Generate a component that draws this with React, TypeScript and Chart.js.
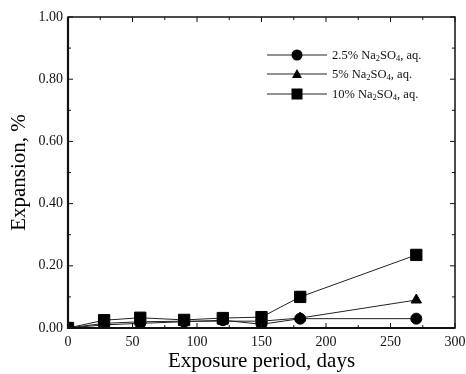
import React, { useEffect, useRef } from "react";
import { Chart, registerables } from "chart.js";

Chart.register(...registerables);

const days = [0, 28, 56, 90, 120, 150, 180, 270];
const series25 = [0, 0.01, 0.015, 0.02, 0.025, 0.012, 0.03, 0.03];
const series5 = [0, 0.015, 0.02, 0.022, 0.022, 0.022, 0.032, 0.09];
const series10 = [0, 0.025, 0.033, 0.026, 0.032, 0.035, 0.1, 0.235];
const legendPrefix = ["2.5% ", "5% ", "10% "];
const legendLabels = ["2.5% Na\u2082SO\u2084, aq.", "5% Na\u2082SO\u2084, aq.", "10% Na\u2082SO\u2084, aq."];
const xTicks = [0, 50, 100, 150, 200, 250, 300];
const yTicks = [0, 0.2, 0.4, 0.6, 0.8, 1.0];

const FONT = "'Liberation Serif', 'Times New Roman', serif";

const frameAndTicks = {
  id: "frameAndTicks",
  afterDatasetsDraw(chart: any) {
    const { ctx, chartArea: a, scales } = chart;
    const xs = scales.x, ys = scales.y;
    ctx.save();
    ctx.strokeStyle = "#111";
    ctx.lineWidth = 1;
    ctx.beginPath();
    for (let v = 0; v <= 300; v += 25) {
      const px = xs.getPixelForValue(v);
      const len = v % 50 === 0 ? 5 : 3;
      ctx.moveTo(px, a.bottom); ctx.lineTo(px, a.bottom - len);
      ctx.moveTo(px, a.top); ctx.lineTo(px, a.top + len);
    }
    for (let i = 0; i <= 10; i++) {
      const v = i / 10;
      const py = ys.getPixelForValue(v);
      const len = i % 2 === 0 ? 5 : 3;
      ctx.moveTo(a.left, py); ctx.lineTo(a.left + len, py);
      ctx.moveTo(a.right, py); ctx.lineTo(a.right - len, py);
    }
    ctx.stroke();
    ctx.lineWidth = 1.5;
    ctx.strokeRect(a.left, a.top, a.right - a.left, a.bottom - a.top);
    ctx.lineWidth = 2.2;
    ctx.beginPath();
    ctx.moveTo(a.left, a.top); ctx.lineTo(a.left, a.bottom); ctx.lineTo(a.right, a.bottom);
    ctx.stroke();
    ctx.restore();
  },
};

const customLegend = {
  id: "customLegend",
  afterDraw(chart: any) {
    const { ctx } = chart;
    ctx.save();
    const rows = [55, 74, 94];
    chart.data.datasets.forEach((ds: any, i: number) => {
      const y = rows[i];
      ctx.strokeStyle = "#222";
      ctx.lineWidth = 1;
      ctx.beginPath();
      ctx.moveTo(267, y); ctx.lineTo(327, y);
      ctx.stroke();
      ctx.fillStyle = "#000";
      const cx = 297;
      ctx.beginPath();
      if (ds.pointStyle === "circle") {
        ctx.arc(cx, y, 5.5, 0, Math.PI * 2);
      } else if (ds.pointStyle === "triangle") {
        ctx.moveTo(cx, y - 5); ctx.lineTo(cx + 5, y + 4); ctx.lineTo(cx - 5, y + 4); ctx.closePath();
      } else {
        ctx.rect(cx - 5.5, y - 5.5, 11, 11);
      }
      ctx.fill();
      ctx.fillStyle = "#111";
      ctx.textBaseline = "alphabetic";
      const base = y + 4;
      let x = 332;
      const big = `12.5px ${FONT}`;
      const small = `8.5px ${FONT}`;
      const parts: [string, boolean][] = [[legendPrefix[i] + "Na", false], ["2", true], ["SO", false], ["4", true], [", aq.", false]];
      for (const [t, sub] of parts) {
        ctx.font = sub ? small : big;
        ctx.fillText(t, x, sub ? base + 2 : base);
        x += ctx.measureText(t).width;
      }
    });
    ctx.restore();
  },
};

export default function App() {
  const ref = useRef<HTMLCanvasElement>(null);
  useEffect(() => {
    document.body.style.margin = "0";
    const mk = (label: string, data: number[], style: string, r: number) => ({
      label,
      data: days.map((d, i) => ({ x: d, y: data[i] })),
      borderColor: "#222",
      borderWidth: 1,
      backgroundColor: "#000",
      pointBackgroundColor: "#000",
      pointBorderColor: "#000",
      pointStyle: style,
      pointRadius: r,
      fill: false,
      tension: 0,
    });
    const chart = new Chart(ref.current!, {
      type: "line",
      data: {
        datasets: [
          mk(legendLabels[0], series25, "circle", 5.5),
          mk(legendLabels[1], series5, "triangle", 6),
          mk(legendLabels[2], series10, "rect", 8),
        ],
      },
      options: {
        animation: false,
        responsive: false,
        layout: { padding: { left: 0, right: 0, top: 17, bottom: 0 } },
        plugins: { legend: { display: false }, tooltip: { enabled: false } },
        scales: {
          x: {
            type: "linear",
            min: 0,
            max: 300,
            afterBuildTicks: (s: any) => { s.ticks = xTicks.map((v) => ({ value: v })); },
            afterFit: (s: any) => { s.height = 46; s.paddingRight = 11; },
            grid: { display: false, drawTicks: false },
            border: { display: false },
            ticks: { font: { family: FONT, size: 14 }, color: "#111", padding: 6, maxRotation: 0 },
            title: { display: true, text: "Exposure period, days", font: { family: FONT, size: 21 }, color: "#000", padding: { top: 0, bottom: 0 } },
          },
          y: {
            type: "linear",
            min: 0,
            max: 1,
            afterBuildTicks: (s: any) => { s.ticks = yTicks.map((v) => ({ value: v })); },
            afterFit: (s: any) => { s.width = 68; },
            grid: { display: false, drawTicks: false },
            border: { display: false },
            ticks: { font: { family: FONT, size: 14 }, color: "#111", padding: 5, callback: (v: any) => Number(v).toFixed(2) },
            title: { display: true, text: "Expansion, %", font: { family: FONT, size: 21 }, color: "#000", padding: { top: 7, bottom: 0 } },
          },
        },
      },
      plugins: [frameAndTicks, customLegend],
    });
    return () => chart.destroy();
  }, []);
  return <canvas ref={ref} width={466} height={374} style={{ display: "block" }} />;
}
